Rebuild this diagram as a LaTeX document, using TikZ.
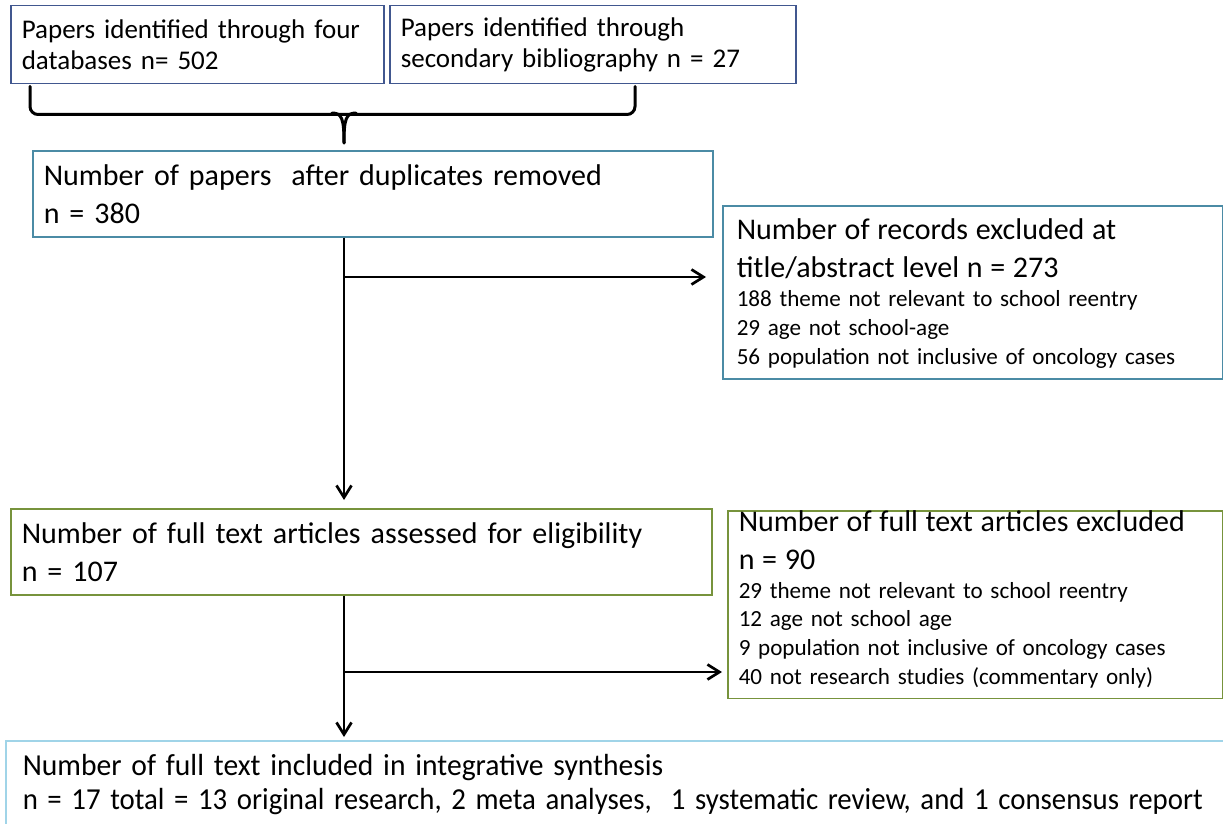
\documentclass[tikz,border=0pt]{standalone}
\usepackage{fontspec}
\setmainfont{Carlito}
\usepackage{xcolor}
\usepackage{graphicx}
\usetikzlibrary{arrows.meta}
\usetikzlibrary{calc}
\definecolor{boxblue}{RGB}{65,87,143}
\definecolor{boxteal}{RGB}{75,139,165}
\definecolor{boxgreen}{RGB}{119,147,60}
\definecolor{boxsky}{RGB}{160,212,232}
\newcommand{\headtxt}{\fontsize{30}{38}\selectfont}
\newcommand{\listtxt}{\fontsize{23.1}{28.7}\selectfont}
\newcommand{\toptxt}{\fontsize{27}{31}\selectfont}
\tikzset{flowbox/.style={draw, line width=1.5pt, anchor=north west, align=left, inner ysep=0pt}}
\tikzset{flowarrow/.style={line width=2.7pt, -{Straight Barb[length=12pt,width=15pt]}}}
\tikzset{bracket/.style={line width=3pt, line cap=round}}

\begin{document}
\begin{tikzpicture}[x=1pt, y=1pt]
\useasboundingbox (0,0) rectangle (1223,-824);
\node[flowbox, draw=boxblue, font=\toptxt, minimum width=373pt, minimum height=78pt, text width=351pt, inner xsep=11pt] (db) at (10,-5) {Papers identified through four\\databases n= 502};
\node[flowbox, draw=boxblue, font=\toptxt, minimum width=406pt, minimum height=78pt, text width=384pt, inner xsep=11pt] (bib) at (389,-5) {Papers identified through\\secondary bibliography n = 27};
\node[flowbox, draw=boxteal, font=\headtxt, minimum width=680pt, minimum height=86pt, text width=658pt, inner xsep=11pt] (dup) at (32,-150) {Number of papers\ \ after duplicates removed\\n = 380};
\node[flowbox, draw=boxteal, font=\listtxt, minimum width=500pt, minimum height=173pt, text width=472pt, inner xsep=14pt] (excl1) at (722,-205) {\headtxt Number of records excluded at\\title/abstract level n = 273\\[1pt]\listtxt 188 theme not relevant to school reentry\\29 age not school-age\\\raisebox{0pt}[0pt][2pt]{56 population not inclusive of oncology cases}};
\node[flowbox, draw=boxgreen, font=\headtxt, minimum width=701pt, minimum height=86pt, text width=679pt, inner xsep=11pt] (elig) at (10,-508) {Number of full text articles assessed for eligibility\\n = 107};
\node[flowbox, draw=boxgreen, font=\listtxt, minimum width=495pt, minimum height=187pt, text width=473pt, inner xsep=11pt] (excl2) at (727,-510) {\headtxt Number of full text articles excluded\\n = 90\\\listtxt 29 theme not relevant to school reentry\\12 age not school age\\9 population not inclusive of oncology cases\\\raisebox{0pt}[14pt][14pt]{40 not research studies (commentary only)}};
\node[flowbox, draw=boxsky, font=\fontsize{30.5}{34}\selectfont, minimum width=1217pt, minimum height=88pt, text width=1190pt, inner xsep=17pt] (incl) at (5,-740) {\scalebox{0.97}[1]{Number of full text included in integrative synthesis}\\\scalebox{0.945}[1]{n = 17 total = 13 original research, 2 meta analyses,\ \ 1 systematic review, and 1 consensus report}};
\coordinate (trunk) at (344,-143);
\coordinate (fork1) at (344,-277);
\coordinate (fork2) at (344,-672);
\draw[bracket, rounded corners=8pt] ($(db.south west)+(20,-2)$) -- ($(db.south west)+(20,-30)$) -- ($(bib.south west)+(246,-30)$) -- ($(bib.south west)+(246,-2)$);
\draw[bracket] ($(trunk)+(-12,30)$) .. controls ($(trunk)+(-2,30)$) and ($(trunk)+(0,24)$) .. (trunk);
\draw[bracket] ($(trunk)+(12,30)$) .. controls ($(trunk)+(2,30)$) and ($(trunk)+(0,24)$) .. (trunk);
\draw[flowarrow, shorten >=8pt] (dup.south -| trunk) -- (elig.north -| trunk);
\draw[flowarrow, shorten >=16pt] (fork1) -- (fork1 -| excl1.west);
\draw[flowarrow, shorten >=3pt] (elig.south -| trunk) -- (incl.north -| trunk);
\draw[flowarrow, shorten >=5pt] (fork2) -- (fork2 -| excl2.west);
\end{tikzpicture}
\end{document}
